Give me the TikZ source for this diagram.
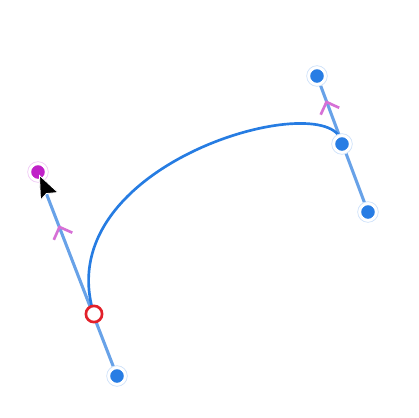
\documentclass[tikz,border=0pt]{standalone}
\definecolor{handleblue}{RGB}{104,162,232}
\definecolor{dotblue}{RGB}{40,125,228}
\definecolor{curveblue}{RGB}{38,124,226}
\definecolor{halo}{RGB}{205,225,250}
\definecolor{magdot}{RGB}{192,32,200}
\definecolor{maghalo}{RGB}{240,200,245}
\definecolor{chev}{RGB}{214,112,214}
\definecolor{redring}{RGB}{226,32,42}
\tikzset{
  handleline/.style={draw=handleblue,line width=2.3pt},
  bez/.style={draw=curveblue,line width=2pt},
  chevron/.style={draw=chev,line width=2pt},
  bluedot/.style={circle,fill=dotblue,draw=white,line width=1.2pt,minimum size=11.5pt,inner sep=0pt},
  magentadot/.style={circle,fill=magdot,draw=white,line width=1.2pt,minimum size=11.5pt,inner sep=0pt},
  haloring/.style={circle,draw=#1,fill=white,line width=0.5pt,minimum size=15.5pt,inner sep=0pt},
  anchorring/.style={circle,draw=redring,fill=white,line width=2pt,minimum size=12.2pt,inner sep=0pt}
}
\begin{document}
\begin{tikzpicture}[x=0.75pt,y=-0.75pt]
\useasboundingbox (0,0) rectangle (419,418);
% positions
\coordinate (hA) at (38,172);
\coordinate (hB) at (117,376);
\coordinate (pA) at (94,314);
\coordinate (hC) at (317,76);
\coordinate (hD) at (368,212);
\coordinate (pB) at (342,144);
\coordinate (c0) at (93,311);
\coordinate (c1) at (50,160);
\coordinate (c2) at (337,84);
% handle lines
\draw[handleline] (hA) -- (hB);
\draw[handleline] (hC) -- (hD);
% curve
\draw[bez] (c0) .. controls (c1) and (c2) .. (pB);
% chevrons
\coordinate (k1) at (53.8,239.8);
\coordinate (k2) at (59.5,227);
\coordinate (k3) at (72.3,232.7);
\draw[chevron] (k1) -- (k2) -- (k3);
\coordinate (k4) at (320.7,114.7);
\coordinate (k5) at (326.5,102);
\coordinate (k6) at (339.2,107.8);
\draw[chevron] (k4) -- (k5) -- (k6);
% dots
\node[haloring=halo] (rB) at (hB) {};
\node[bluedot] (dB) at (hB) {};
\node[haloring=halo] (rC) at (hC) {};
\node[bluedot] (dC) at (hC) {};
\node[haloring=halo] (rD) at (hD) {};
\node[bluedot] (dD) at (hD) {};
\node[haloring=halo] (rP) at (pB) {};
\node[bluedot] (dP) at (pB) {};
\node[haloring=maghalo] (rA) at (hA) {};
\node[magentadot] (dA) at (hA) {};
\node[anchorring] (ring) at (pA) {};
% cursor
\filldraw[fill=black,draw=white,line width=0.6pt,line join=miter]
  (39.5,175.5) -- (40.5,200) -- (46.5,193.5) -- (58,192.5) -- cycle;
\end{tikzpicture}
\end{document}
